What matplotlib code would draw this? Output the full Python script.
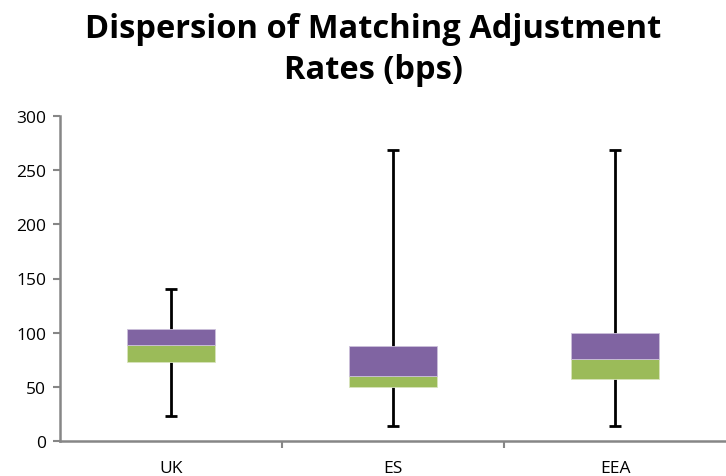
import matplotlib
matplotlib.use("Agg")
import matplotlib.pyplot as plt
import numpy as np

categories = ["UK", "ES", "EEA"]
mins = [23, 13.6, 13.6]
q1 = [72.6, 49.5, 57.5]
medians = [88.6, 59.7, 76]
q3 = [103.4, 88, 99.4]
maxs = [140.3, 268.3, 268.3]
yticks = [0, 50, 100, 150, 200, 250, 300]

green = "#9BBB59"
purple = "#8064A2"
axcol = "#868686"

fig = plt.figure(figsize=(7.26, 4.77), dpi=100)
ax = fig.add_axes([60/726, 35/477, 666/726, 325/477])

x = np.arange(len(categories))
w = 0.4
ax.vlines(x, mins, maxs, color="black", lw=2, zorder=1)
ax.hlines(mins, x - 0.025, x + 0.025, color="black", lw=2, zorder=1)
ax.hlines(maxs, x - 0.025, x + 0.025, color="black", lw=2, zorder=1)
ax.bar(x, np.array(medians) - np.array(q1), bottom=q1, width=w, color=green,
       edgecolor="#d8e4bc", lw=0.6, zorder=2)
ax.bar(x, np.array(q3) - np.array(medians), bottom=medians, width=w, color=purple,
       edgecolor="#ccc0da", lw=0.6, zorder=2)

ax.set_xlim(-0.5, 2.5)
ax.set_ylim(0, 300)
ax.set_yticks(yticks)
ax.set_yticklabels([str(v) for v in yticks], fontsize=12.5, family="Open Sans")
ax.set_xticks(x)
ax.set_xticklabels(categories, fontsize=12.5, family="Open Sans")
ax.tick_params(axis="x", length=0, pad=14)
ax.set_xticks([0.5, 1.5], minor=True)
ax.tick_params(axis="x", which="minor", length=5, color=axcol, direction="out", width=1.5)
ax.tick_params(axis="y", length=5, color=axcol, direction="out", pad=5, width=1.5)
for s in ["top", "right"]:
    ax.spines[s].set_visible(False)
for s in ["left", "bottom"]:
    ax.spines[s].set_color(axcol)
    ax.spines[s].set_linewidth(1.8)

fig.text(373/726, 1 - 50/477, "Dispersion of Matching Adjustment\nRates (bps)",
         ha="center", va="center", fontsize=23.5, fontweight="bold",
         family="Open Sans", linespacing=1.3)

fig.savefig("out.png", dpi=100)
